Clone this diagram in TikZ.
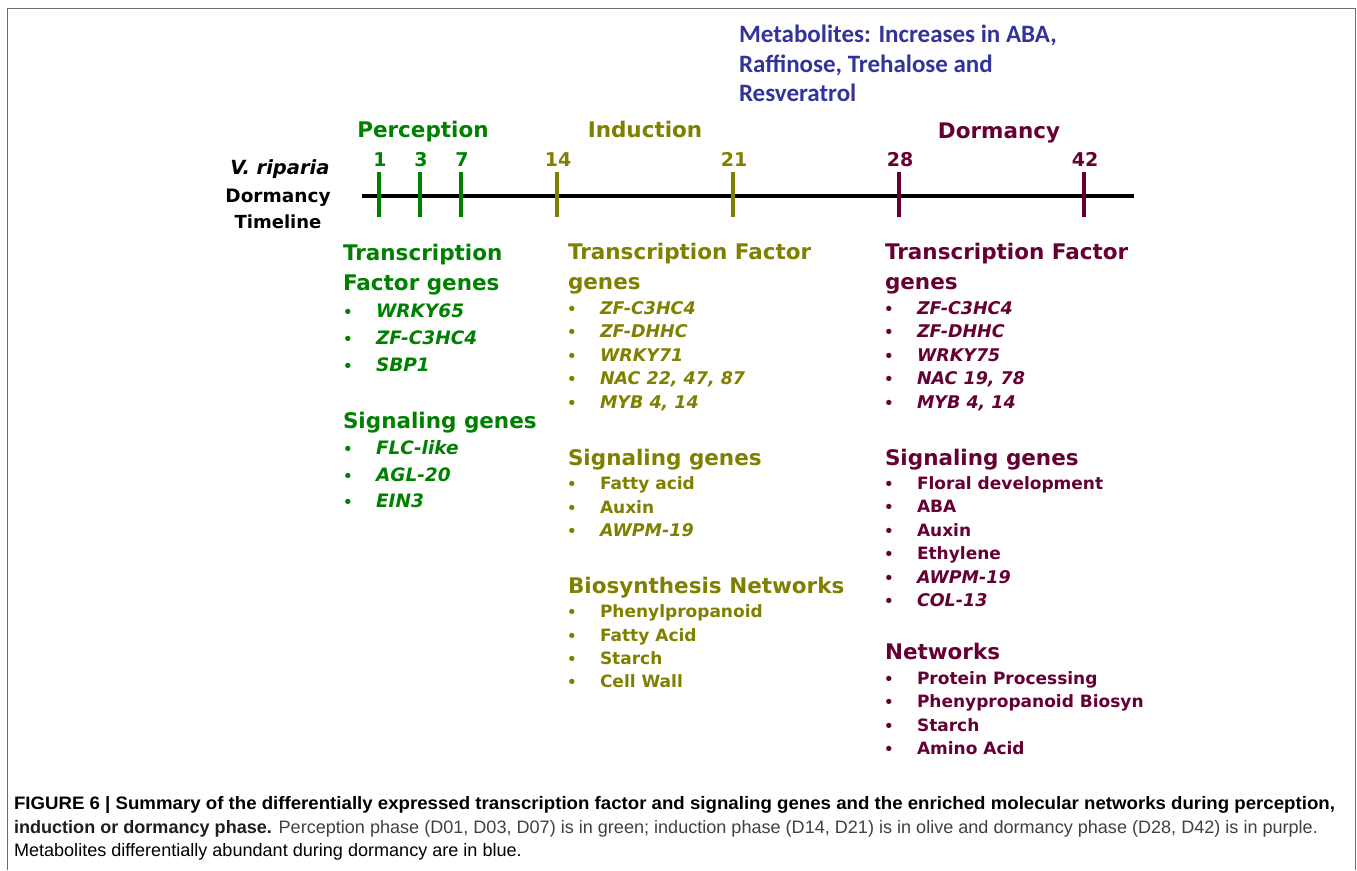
\documentclass[tikz,border=0pt]{standalone}
\usepackage{fontspec}
\setmainfont{DejaVu Sans}
\newfontfamily\metafont{Carlito}
\newfontfamily\capfont{Liberation Sans}
\definecolor{pgreen}{RGB}{0,128,0}
\definecolor{polive}{RGB}{128,128,0}
\definecolor{ppurple}{RGB}{102,0,51}
\definecolor{pblue}{RGB}{51,51,153}
\definecolor{capdark}{RGB}{30,30,30}
\definecolor{capgray}{RGB}{64,64,64}
\definecolor{framegray}{RGB}{110,110,110}
\newcommand\capsize{\fontsize{18}{20}\selectfont}
\newsavebox\capboxA
\newsavebox\capboxB
\newsavebox\capboxC
\sbox\capboxA{\capfont\capsize\bfseries FIGURE 6 | Summary of the differentially expressed transcription factor and signaling genes and the enriched molecular networks during perception,}
\sbox\capboxB{\capfont\capsize{\bfseries induction or dormancy phase.} Perception phase (D01, D03, D07) is in green; induction phase (D14, D21) is in olive and dormancy phase (D28, D42) is in purple.}
\sbox\capboxC{\capfont\capsize Metabolites differentially abundant during dormancy are in blue.}
\newlength\capwA \setlength\capwA{\wd\capboxA}
\newlength\capwB \setlength\capwB{\wd\capboxB}
\pgfmathsetmacro\sxA{1321pt/\capwA}
\pgfmathsetmacro\sxB{1304pt/\capwB}
\begin{document}
\begin{tikzpicture}[x=1pt,y=-1pt,
  every node/.style={inner sep=0pt,outer sep=0pt},
  hd/.style={anchor=base west,font=\fontsize{21.5}{25}\selectfont\bfseries},
  it/.style={anchor=base west,font=\fontsize{17}{20}\selectfont\bfseries},
  iti/.style={anchor=base west,font=\fontsize{17.5}{20}\selectfont\bfseries\itshape},
  giti/.style={anchor=base west,font=\fontsize{18.5}{20}\selectfont\bfseries\itshape},
  bul/.style={anchor=base west,font=\fontsize{15}{18}\selectfont\bfseries},
  num/.style={anchor=base,font=\fontsize{19}{20}\selectfont\bfseries},
  phase/.style={anchor=base,font=\fontsize{21.5}{25}\selectfont\bfseries},
  tickline/.style={line width=3.5pt},
  meta/.style={anchor=base west,text=pblue,font=\metafont\fontsize{25}{30}\selectfont\bfseries},
  captext/.style={anchor=base west,font=\capfont\capsize}]
\useasboundingbox (0,0) rectangle (1357,870);
% frame
\draw[framegray,line width=1.2pt] (7.5,870) -- (7.5,8.5) -- (1355.5,8.5) -- (1355.5,870);

% metabolites
\node[meta] (met1) at (739,42) {Metabolites: Increases in ABA,};
\node[meta] (met2) at (739,72) {Raffinose, Trehalose and};
\node[meta] (met3) at (739,101) {Resveratrol};

% timeline title
\node[anchor=base,font=\fontsize{19.5}{22}\selectfont\bfseries\itshape] (vr) at (280,174) {V. riparia};
\node[anchor=base,font=\fontsize{18.5}{22}\selectfont\bfseries] (dm) at (278,202) {Dormancy};
\node[anchor=base,font=\fontsize{18}{22}\selectfont\bfseries] (tl) at (278,228) {Timeline};

% phases
\node[phase,text=pgreen] (perc) at (423,137) {Perception};
\node[phase,text=polive] (ind) at (645,137) {Induction};
\node[phase,text=ppurple] (dor) at (999,138) {Dormancy};

% timeline
\coordinate (tlS) at (362,196);
\coordinate (tlE) at (1134,196);
\draw[line width=4pt] (tlS) -- (tlE);
\foreach \x/\lab/\col/\nm in {379/1/pgreen/d1,420/3/pgreen/d3,461/7/pgreen/d7,557/14/polive/d14,733/21/polive/d21,899/28/ppurple/d28,1084/42/ppurple/d42}{
  \coordinate (\nm t) at (\x,172);
  \coordinate (\nm b) at (\x,217);
  \draw[tickline,\col] (\nm t) -- (\nm b);
  \node[num,text=\col] (\nm) at (\x+1,166) {\lab};
}

% ---------- green column ----------
\node[hd,text=pgreen] (gh1) at (343,260) {Transcription};
\node[hd,text=pgreen] (gh2) at (343,290) {Factor genes};
\foreach \y/\t/\nm in {317/WRKY65/ga,344/ZF-C3HC4/gb,371/SBP1/gc,454/FLC-like/gd,481/AGL-20/ge,507/EIN3/gf}{
  \node[bul,text=pgreen] (\nm b) at (343,\y) {•};
  \node[giti,text=pgreen] (\nm) at (376,\y) {\t};
}
\node[hd,text=pgreen] (gh3) at (343,428) {Signaling genes};

% ---------- olive column ----------
\node[hd,text=polive] (oh1) at (568,259) {Transcription Factor};
\node[hd,text=polive] (oh2) at (568,289) {genes};
\foreach \y/\t/\nm in {314/ZF-C3HC4/oa,337/ZF-DHHC/ob,361/WRKY71/oc,384/{NAC 22, 47, 87}/od,408/{MYB 4, 14}/oe,536/AWPM-19/oh}{
  \node[bul,text=polive] (\nm b) at (567,\y) {•};
  \node[iti,text=polive] (\nm) at (600,\y) {\t};
}
\node[hd,text=polive] (oh3) at (568,465) {Signaling genes};
\foreach \y/\t/\nm in {489/Fatty acid/of,513/Auxin/og,617/Phenylpropanoid/oi,641/Fatty Acid/oj,664/Starch/ok,687/Cell Wall/ol}{
  \node[bul,text=polive] (\nm b) at (567,\y) {•};
  \node[it,text=polive] (\nm) at (600,\y) {\t};
}
\node[hd,text=polive] (oh4) at (568,593) {Biosynthesis Networks};

% ---------- purple column ----------
\node[hd,text=ppurple] (ph1) at (885,259) {Transcription Factor};
\node[hd,text=ppurple] (ph2) at (885,289) {genes};
\foreach \y/\t/\nm in {314/ZF-C3HC4/pa,337/ZF-DHHC/pb,361/WRKY75/pc,384/{NAC 19, 78}/pd,408/{MYB 4, 14}/pe,583/AWPM-19/pj,606/COL-13/pk}{
  \node[bul,text=ppurple] (\nm b) at (884,\y) {•};
  \node[iti,text=ppurple] (\nm) at (917,\y) {\t};
}
\node[hd,text=ppurple] (ph3) at (885,465) {Signaling genes};
\foreach \y/\t/\nm in {489/Floral development/pf,512/ABA/pg,536/Auxin/ph,559/Ethylene/pi,684/Protein Processing/pl,707/Phenypropanoid Biosyn/pm,731/Starch/pn,754/Amino Acid/po}{
  \node[bul,text=ppurple] (\nm b) at (884,\y) {•};
  \node[it,text=ppurple] (\nm) at (917,\y) {\t};
}
\node[hd,text=ppurple] (ph4) at (885,659) {Networks};

% caption
\node[captext,text=capdark] (capA) at (14,809) {\scalebox{\sxA}[1]{\usebox\capboxA}};
\node[captext,text=capgray] (capB) at (14,833) {\scalebox{\sxB}[1]{\capfont\capsize{\color{capdark}\bfseries induction or dormancy phase.} Perception phase (D01, D03, D07) is in green; induction phase (D14, D21) is in olive and dormancy phase (D28, D42) is in purple.}};
\node[captext,text=capgray] (capC) at (14,856) {\scalebox{\sxB}[1]{\usebox\capboxC}};
\end{tikzpicture}
\end{document}
